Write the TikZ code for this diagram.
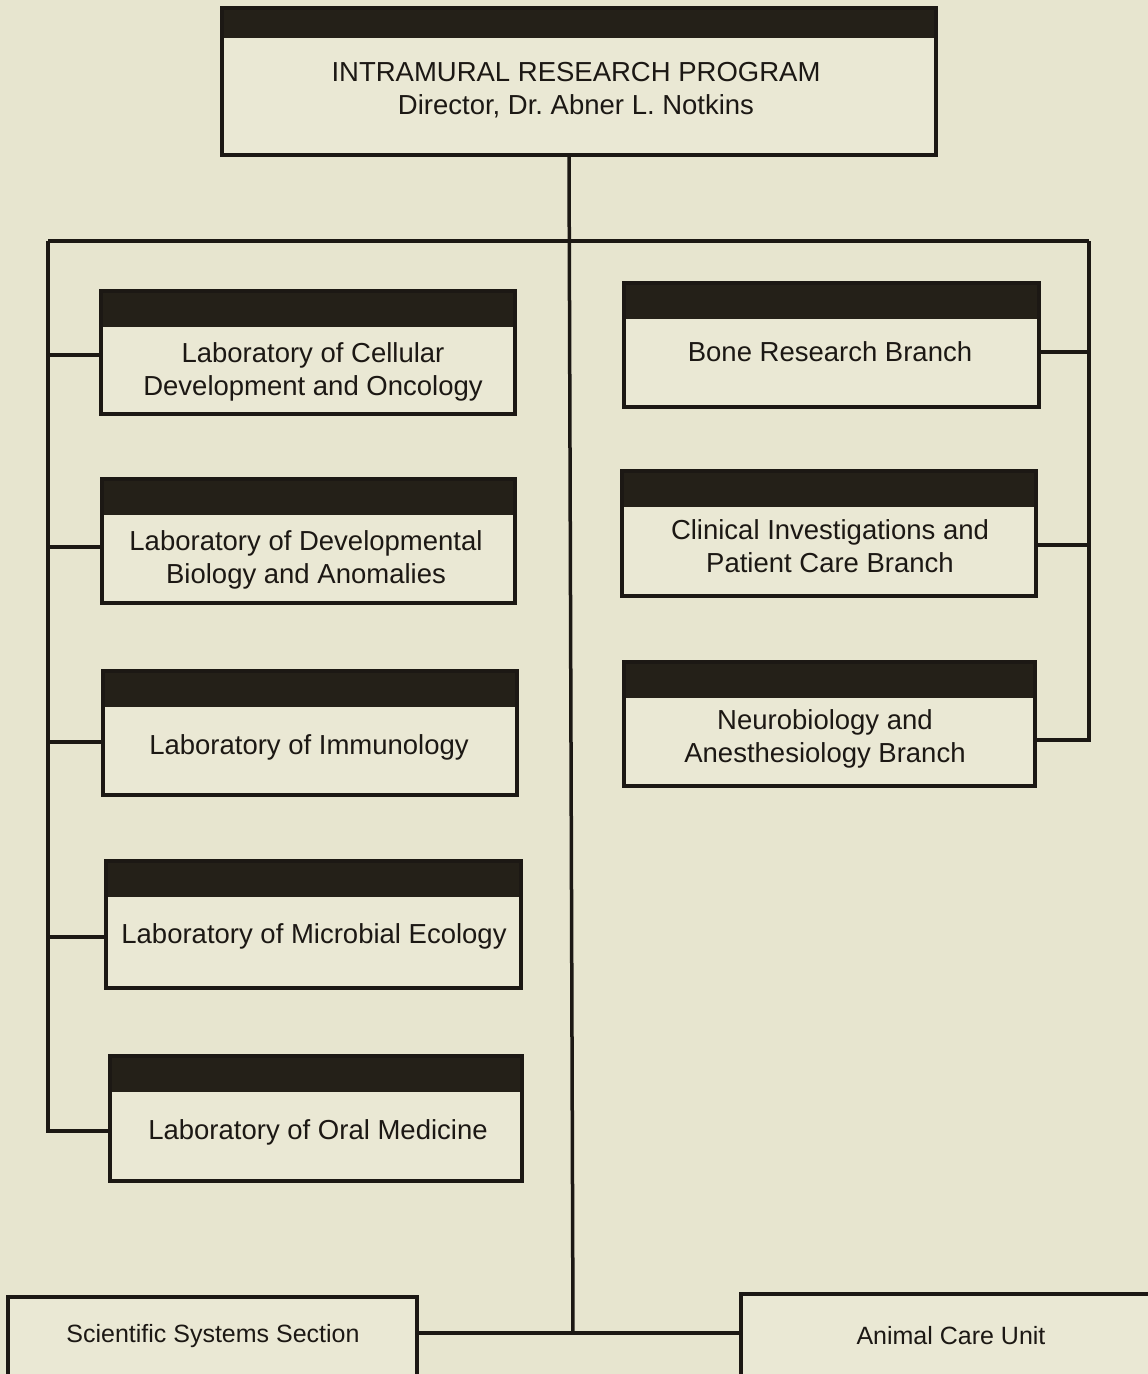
\documentclass[tikz,border=0pt]{standalone}
\usepackage{fontspec}
\setmainfont{Liberation Sans}
\definecolor{bgcol}{RGB}{231,229,207}
\definecolor{boxcol}{RGB}{234,232,212}
\definecolor{hdrcol}{RGB}{36,32,24}
\definecolor{inkcol}{RGB}{28,24,20}
\tikzset{
  unitbox/.style={draw=inkcol, line width=3.5pt, fill=boxcol, inner sep=0pt,
    path picture={\fill[hdrcol] (path picture bounding box.north west) rectangle ([yshift=-36pt]path picture bounding box.north east);}},
  topbox/.style={draw=inkcol, line width=3.5pt, fill=boxcol, inner sep=0pt,
    path picture={\fill[hdrcol] (path picture bounding box.north west) rectangle ([yshift=-30pt]path picture bounding box.north east);}},
  plainbox/.style={draw=inkcol, line width=3.5pt, fill=boxcol, inner sep=0pt},
  conn/.style={draw=inkcol, line width=3.5pt},
  lbl/.style={text=inkcol, align=center, inner sep=0pt, font=\fontsize{27.5}{33}\selectfont},
  smalllbl/.style={text=inkcol, align=center, inner sep=0pt, font=\fontsize{25}{30}\selectfont}
}
\begin{document}
\frenchspacing
\begin{tikzpicture}[x=1pt,y=-1pt]
\useasboundingbox (0,0) rectangle (1148,1374);
\clip (0,0) rectangle (1148,1374);
\fill[bgcol] (0,0) rectangle (1148,1374);

% junction coordinates
\coordinate (J) at (570,241);
\coordinate (L) at (48,241);
\coordinate (R) at (1089,241);
\coordinate (B) at (573,1333);
\coordinate (T) at (569,155);

% top box
\node[topbox, minimum width=714pt, minimum height=147pt] (irp) at (579,81.5) {};
\node[lbl] (irpt) at (576,90) {INTRAMURAL RESEARCH PROGRAM\\Director, Dr. Abner L. Notkins};

% left column
\node[unitbox, minimum width=414pt, minimum height=123pt] (lab1) at (308,352.5) {};
\node[unitbox, minimum width=413pt, minimum height=124pt] (lab2) at (308.5,541) {};
\node[unitbox, minimum width=414pt, minimum height=124pt] (lab3) at (310,733) {};
\node[unitbox, minimum width=415pt, minimum height=127pt] (lab4) at (313.5,924.5) {};
\node[unitbox, minimum width=412pt, minimum height=125pt] (lab5) at (316,1118.5) {};

\node[lbl] (lab1t) at (313,372) {Laboratory of Cellular\\Development and Oncology};
\node[lbl] (lab2t) at (306,560) {Laboratory of Developmental\\Biology and Anomalies};
\node[lbl] (lab3t) at (309,747) {Laboratory of Immunology};
\node[lbl] (lab4t) at (314,936) {Laboratory of Microbial Ecology};
\node[lbl] (lab5t) at (318,1132) {Laboratory of Oral Medicine};

% right column
\node[unitbox, minimum width=415pt, minimum height=124pt] (br1) at (831.5,345) {};
\node[unitbox, minimum width=414pt, minimum height=125pt] (br2) at (829,533.5) {};
\node[unitbox, minimum width=411pt, minimum height=124pt] (br3) at (829.5,724) {};

\node[lbl] (br1t) at (830,352) {Bone Research Branch};
\node[lbl] (br2t) at (830,546) {Clinical Investigations and\\Patient Care Branch};
\node[lbl] (br3t) at (825,739) {Neurobiology and\\Anesthesiology Branch};

% bottom boxes
\node[plainbox, minimum width=409pt, minimum height=100pt] (ss) at (212.5,1347) {};
\node[plainbox, minimum width=420pt, minimum height=100pt] (ac) at (951,1344) {};
\node[smalllbl] (sst) at (213,1336) {Scientific Systems Section};
\node[smalllbl] (act) at (951,1336) {Animal Care Unit};

% connectors
\draw[conn] (T) -- (B);
\draw[conn] (L) -- (R);
\draw[conn] (L) |- (lab5.west |- 0,1131);
\draw[conn] (R) |- (br3.east |- 0,740);
\draw[conn] (L |- 0,355) -- (lab1.west |- 0,355);
\draw[conn] (L |- 0,547) -- (lab2.west |- 0,547);
\draw[conn] (L |- 0,742) -- (lab3.west |- 0,742);
\draw[conn] (L |- 0,937) -- (lab4.west |- 0,937);
\draw[conn] (R |- 0,352) -- (br1.east |- 0,352);
\draw[conn] (R |- 0,545) -- (br2.east |- 0,545);
\draw[conn] (ss.east |- B) -- (ac.west |- B);
\end{tikzpicture}
\end{document}
